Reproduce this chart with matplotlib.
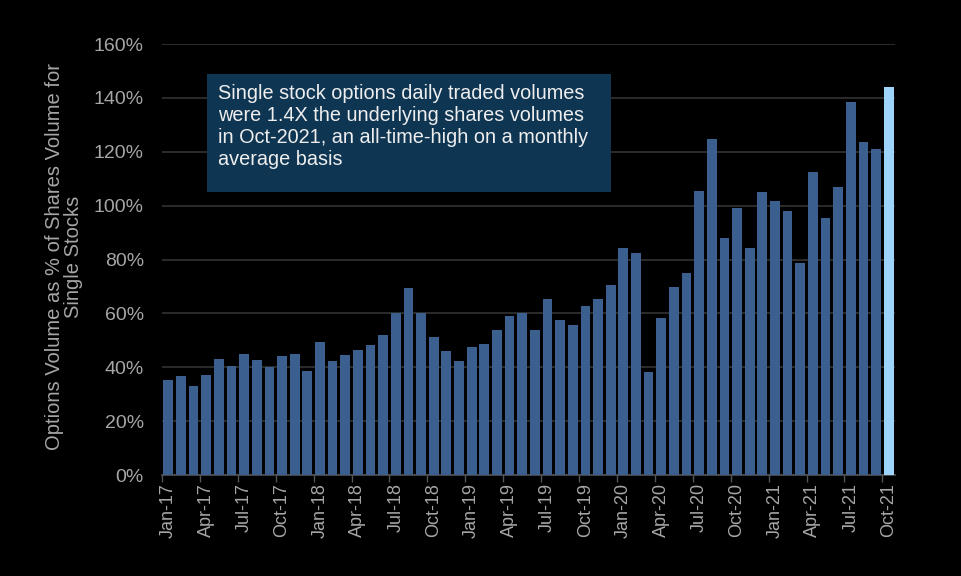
import matplotlib
matplotlib.use("Agg")
import matplotlib.pyplot as plt
from matplotlib.patches import Rectangle
import numpy as np

months = ["Jan", "Feb", "Mar", "Apr", "May", "Jun", "Jul", "Aug", "Sep", "Oct", "Nov", "Dec"]
categories = [f"{m}-{y}" for y in ["17", "18", "19", "20", "21"] for m in months][:58]

values = [35.3, 36.7, 33.0, 37.2, 43.2, 40.4, 45.1, 42.8, 40.0, 44.1, 45.1, 38.7,
          49.2, 42.3, 44.6, 46.5, 48.3, 52.0, 60.0, 69.6, 60.3, 51.1, 46.0, 42.3,
          47.5, 48.8, 54.0, 59.0, 60.0, 53.7, 65.3, 57.5, 55.6, 62.6, 65.3, 70.4,
          84.2, 82.3, 38.4, 58.4, 69.9, 75.1, 105.6, 124.9, 88.0, 99.1, 84.2, 104.9,
          101.9, 98.1, 78.8, 112.5, 95.4, 106.9, 138.4, 123.6, 120.9, 144.1]

yticks = [0, 20, 40, 60, 80, 100, 120, 140, 160]
ylabel = "Options Volume as % of Shares Volume for\nSingle Stocks"
note = ("Single stock options daily traded volumes\n"
        "were 1.4X the underlying shares volumes\n"
        "in Oct-2021, an all-time-high on a monthly\n"
        "average basis")

plt.rcParams['font.family'] = ['Liberation Sans', 'DejaVu Sans']
txt_col = "#A6A6A6"

fig = plt.figure(figsize=(9.61, 5.76), dpi=100, facecolor="black")
ax = fig.add_axes([0.1686, 0.1753, 0.9313 - 0.1686, 0.9236 - 0.1753])
ax.set_facecolor("black")

x = np.arange(len(values))
colors = ["#3B5F8E"] * (len(values) - 1) + ["#9FD4FA"]
ax.bar(x, values, width=0.77, color=colors, zorder=3)

ax.set_xlim(-0.5, len(values) - 0.5)
ax.set_ylim(0, 160)
ax.set_yticks(yticks)
ax.set_yticklabels([f"{t}%" for t in yticks], color=txt_col, fontsize=14)
ax.yaxis.grid(True, color="#333333", linewidth=1.2, zorder=0)
ax.tick_params(axis="y", length=0, pad=13)

tick_idx = list(range(0, len(values), 3))
ax.set_xticks(tick_idx)
ax.set_xticklabels([categories[i] for i in tick_idx], rotation=90, color=txt_col, fontsize=13)
ax.tick_params(axis="x", length=0, pad=6)
ax.set_xticks(np.array(tick_idx) - 0.5, minor=True)
ax.tick_params(axis="x", which="minor", length=5, color="#555555", width=1)

for s in ["top", "right", "left"]:
    ax.spines[s].set_visible(False)
ax.spines["bottom"].set_color("#555555")
ax.spines["bottom"].set_linewidth(1.2)

fig.text(0.0666, 0.5547, ylabel, color=txt_col, fontsize=14.5, rotation=90,
         ha="center", va="center", multialignment="center", linespacing=1.0)

fig.patches.append(Rectangle((207 / 961, 1 - 192 / 576), (611 - 207) / 961, (192 - 74) / 576,
                             transform=fig.transFigure, facecolor="#0E3552",
                             edgecolor="none", zorder=5))
fig.text(218 / 961, 1 - 84 / 576, note, color="#EEEEEE", fontsize=14.3, va="top", ha="left",
         linespacing=1.21, zorder=6)

fig.savefig("out.png", dpi=100, facecolor="black")
